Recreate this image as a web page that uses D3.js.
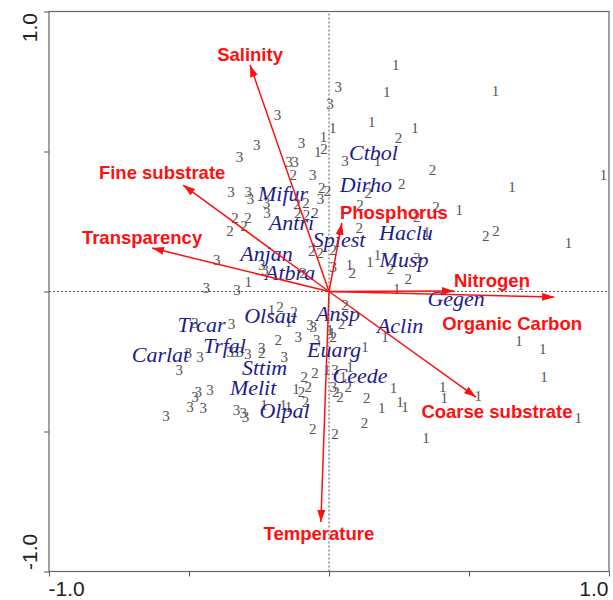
<!DOCTYPE html>
<html>
<head>
<meta charset="utf-8">
<script src="https://cdn.jsdelivr.net/npm/d3@7"></script>
<style>
  html, body { margin: 0; padding: 0; background: #fff; }
  svg { display: block; }
</style>
</head>
<body>
<div id="chart"></div>
<script>
// ---------------- DATA (CCA biplot scores, axis 1 vs axis 2) ----------------
const axisTicks = [-1, -0.5, 0, 0.5, 1];
const axisTickLabels = ["-1.0", "", "", "", "1.0"];

// Site scores, grouped by site class (label shown is the class)
const sites1 = [
  [0.238,0.809],[0.206,0.714],[0.595,0.717],[0.153,0.606],[0.307,0.583],[0.013,0.583],
  [-0.020,0.553],[-0.040,0.499],[0.173,0.467],[0.980,0.416],[0.654,0.374],[0.465,0.291],
  [0.349,0.213],[0.855,0.172],[0.173,0.130],[0.146,0.105],[0.073,0.095],[0.242,0.011],
  [0.685,0.023],[-0.288,0.035],[-0.205,-0.066],[-0.145,-0.108],[0.004,-0.138],[0.010,-0.149],
  [0.129,-0.197],[0.200,-0.161],[-0.008,-0.280],[0.075,-0.269],[-0.118,-0.348],[0.230,-0.346],
  [0.254,-0.394],[0.271,-0.411],[0.188,-0.417],[-0.232,-0.405],[-0.163,-0.405],[-0.145,-0.411],
  [0.346,-0.524],[0.406,-0.340],[0.412,-0.381],[0.679,-0.176],[0.763,-0.205],[0.768,-0.306],
  [0.533,-0.373],[0.890,-0.453],[0.051,-0.304]
];
const sites2 = [
  [0.248,0.547],[-0.018,0.511],[0.370,0.436],[0.260,0.383],[0.140,0.351],[-0.026,0.370],
  [-0.005,0.359],[-0.114,0.313],[-0.082,0.316],[-0.111,0.279],[-0.080,0.273],[-0.050,0.279],
  [0.111,0.311],[0.382,0.303],[0.313,0.267],[0.108,0.227],[0.560,0.200],[0.596,0.217],
  [-0.062,0.145],[-0.032,0.139],[0.015,0.148],[0.083,0.065],[0.220,0.082],[0.283,0.045],
  [-0.128,0.416],[-0.336,0.264],[-0.289,0.264],[-0.354,0.216],[-0.304,0.234],[-0.093,0.068],
  [-0.175,-0.054],[-0.125,-0.072],[0.045,-0.114],[0.057,-0.048],[-0.181,-0.173],[-0.240,-0.221],
  [-0.088,-0.306],[-0.050,-0.289],[-0.098,-0.357],[-0.074,-0.340],[-0.084,-0.394],[-0.058,-0.489],
  [0.021,-0.508],[0.025,-0.358],[0.039,-0.377],[0.069,-0.340],[0.135,-0.381],[0.127,-0.471],
  [0.015,-0.161]
];
const sites3 = [
  [0.033,0.730],[0.004,0.670],[-0.098,0.529],[0.057,0.468],[-0.058,0.415],[-0.030,0.329],
  [-0.184,0.630],[-0.258,0.523],[-0.320,0.480],[-0.143,0.463],[-0.121,0.463],[-0.350,0.356],
  [-0.288,0.355],[-0.280,0.329],[-0.223,0.315],[-0.221,0.279],[-0.401,0.114],[-0.240,0.095],
  [-0.229,0.077],[-0.438,0.013],[-0.329,0.004],[0.015,0.088],[0.314,0.119],[-0.479,-0.111],
  [-0.348,-0.114],[-0.068,-0.120],[-0.056,-0.126],[-0.110,-0.161],[-0.044,-0.172],[-0.503,-0.218],
  [-0.461,-0.234],[-0.354,-0.215],[-0.336,-0.215],[-0.318,-0.215],[-0.290,-0.223],[-0.240,-0.203],
  [-0.160,-0.233],[-0.535,-0.281],[-0.425,-0.352],[-0.467,-0.358],[-0.479,-0.376],[-0.496,-0.411],
  [-0.449,-0.417],[-0.582,-0.445],[-0.330,-0.423],[-0.306,-0.433],[-0.298,-0.449],[0.021,-0.280],
  [0.015,-0.340]
];

// Species scores
const speciesNames = ["Ctbol","Dirho","Mifur","Antri","Haclu","Spiest","Anjan","Atbra","Musp",
  "Gegen","Aclin","Ansp","Euarg","Ceede","Olsau","Trcar","Trfal","Carlat","Sttim","Melit","Olpal"];
const speciesX = [0.159,0.132,-0.164,-0.134,0.275,0.036,-0.223,-0.139,0.268,
  0.454,0.254,0.032,0.018,0.111,-0.209,-0.455,-0.373,-0.602,-0.230,-0.271,-0.159];
const speciesY = [0.496,0.382,0.350,0.246,0.211,0.186,0.136,0.068,0.114,
  -0.025,-0.121,-0.079,-0.207,-0.300,-0.086,-0.118,-0.193,-0.225,-0.271,-0.343,-0.425];

// Environmental variables (arrow tips)
const envNames = ["Salinity","Fine substrate","Transparency","Phosphorus","Nitrogen",
  "Organic Carbon","Coarse substrate","Temperature"];
const envX = [-0.282,-0.521,-0.632,0.046,0.446,0.804,0.525,-0.029];
const envY = [0.809,0.380,0.155,0.245,0.002,-0.020,-0.377,-0.823];

// ---------------- LAYOUT (label placement, px relative to arrow tip) ----------------
const envLabelPlace = {
  "Salinity":        {dx:0,   dy:-4, anchor:"middle"},
  "Fine substrate":  {dx:-21, dy:-6, anchor:"middle"},
  "Transparency":    {dx:-10, dy:-4, anchor:"middle"},
  "Phosphorus":      {dx:-2,  dy:-4, anchor:"start"},
  "Nitrogen":        {dx:0,   dy:-4, anchor:"start"},
  "Organic Carbon":  {dx:-42, dy:33, anchor:"middle"},
  "Coarse substrate":{dx:21,  dy:21, anchor:"middle"},
  "Temperature":     {dx:-2,  dy:18, anchor:"middle"}
};

const W = 613, H = 600;
const svg = d3.select("#chart").append("svg").attr("width", W).attr("height", H);

const x = d3.scaleLinear().domain([-1, 1]).range([49, 609]);
const y = d3.scaleLinear().domain([-1, 1]).range([571.5, 11.5]);

const red = "#ff1010";
const defs = svg.append("defs");
defs.append("marker")
  .attr("id", "head")
  .attr("viewBox", "0 0 12 8")
  .attr("refX", 12).attr("refY", 4)
  .attr("markerWidth", 12).attr("markerHeight", 8)
  .attr("markerUnits", "userSpaceOnUse")
  .attr("orient", "auto")
  .append("path").attr("d", "M0,0 L12,4 L0,8 Z").attr("fill", red);

// zero lines
svg.append("line").attr("x1", x(-1)).attr("x2", x(1)).attr("y1", y(0)).attr("y2", y(0))
  .attr("stroke", "#555").attr("stroke-width", 1).attr("stroke-dasharray", "2,2");
svg.append("line").attr("x1", x(0)).attr("x2", x(0)).attr("y1", y(-1)).attr("y2", y(1))
  .attr("stroke", "#555").attr("stroke-width", 1).attr("stroke-dasharray", "2,2");

// axes
const bottom = svg.append("g").attr("transform", `translate(0,${y(-1)})`)
  .call(d3.axisBottom(x).tickValues(axisTicks).tickSize(5).tickSizeOuter(0)
    .tickFormat((d, i) => axisTickLabels[i]));
bottom.select(".domain").remove();
bottom.selectAll(".tick line").attr("stroke", "#555");
bottom.selectAll(".tick text")
  .attr("font-family", "Liberation Sans, Arial, sans-serif").attr("font-size", 21)
  .attr("fill", "#222").attr("dy", null).attr("y", 24)
  .attr("text-anchor", (d, i) => i === 0 ? "start" : "end")
  .attr("x", -1);

const left = svg.append("g").attr("transform", `translate(${x(-1)},0)`)
  .call(d3.axisLeft(y).tickValues(axisTicks).tickSize(5).tickSizeOuter(0)
    .tickFormat((d, i) => axisTickLabels[i]));
left.select(".domain").remove();
left.selectAll(".tick line").attr("stroke", "#555");
left.selectAll(".tick text")
  .attr("font-family", "Liberation Sans, Arial, sans-serif").attr("font-size", 21)
  .attr("fill", "#222").attr("dy", null).attr("x", null).attr("y", null)
  .attr("transform", "translate(-12,0) rotate(-90)")
  .attr("text-anchor", d => d < 0 ? "start" : "end")
  .attr("x", d => d < 0 ? 2 : -1);

// frame
svg.append("rect").attr("x", x(-1)).attr("y", y(1))
  .attr("width", x(1) - x(-1)).attr("height", y(-1) - y(1))
  .attr("fill", "none").attr("stroke", "#666").attr("stroke-width", 1.2);

// site numbers
const siteG = svg.append("g")
  .attr("font-family", "Liberation Serif, Times New Roman, serif")
  .attr("font-size", 15).attr("fill", "#555").attr("text-anchor", "middle");
[[sites1, "1"], [sites2, "2"], [sites3, "3"]].forEach(([arr, lab]) => {
  siteG.selectAll(null).data(arr).enter().append("text")
    .attr("x", d => x(d[0])).attr("y", d => y(d[1])).attr("dy", "0.34em")
    .text(lab);
});

// species labels
svg.append("g")
  .attr("font-family", "Liberation Serif, Times New Roman, serif")
  .attr("font-style", "italic").attr("font-size", 22).attr("fill", "#1c1c8c")
  .attr("text-anchor", "middle")
  .selectAll("text").data(speciesNames).enter().append("text")
  .attr("x", (d, i) => x(speciesX[i])).attr("y", (d, i) => y(speciesY[i]))
  .attr("dy", "0.34em").text(d => d);

// environmental arrows
const envG = svg.append("g");
envG.selectAll("line").data(envNames).enter().append("line")
  .attr("x1", x(0)).attr("y1", y(0))
  .attr("x2", (d, i) => x(envX[i])).attr("y2", (d, i) => y(envY[i]))
  .attr("stroke", red).attr("stroke-width", 1.5)
  .attr("marker-end", "url(#head)");

envG.selectAll("text").data(envNames).enter().append("text")
  .attr("x", (d, i) => x(envX[i]) + envLabelPlace[d].dx)
  .attr("y", (d, i) => y(envY[i]) + envLabelPlace[d].dy)
  .attr("text-anchor", d => envLabelPlace[d].anchor)
  .attr("font-family", "Liberation Sans, Arial, sans-serif")
  .attr("font-weight", "bold").attr("font-size", 18.5).attr("fill", red)
  .text(d => d);
</script>
</body>
</html>
